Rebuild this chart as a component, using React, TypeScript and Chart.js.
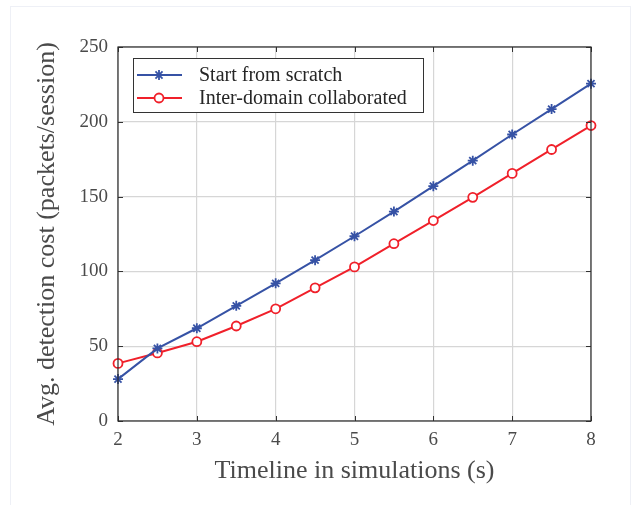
import React, { useEffect, useRef } from "react";
import { Chart, registerables } from "chart.js";

Chart.register(...registerables);

const timeline = [2, 2.5, 3, 3.5, 4, 4.5, 5, 5.5, 6, 6.5, 7, 7.5, 8];
const scratchCost = [28, 48.5, 62, 77, 92, 107.5, 123.5, 140, 157, 174, 191.5, 208.5, 225.5];
const collabCost = [38.5, 45.5, 53, 63.5, 75, 89, 103, 118.5, 134, 149.5, 165.5, 181.5, 197.5];
const seriesNames = ["Start from scratch", "Inter-domain collaborated"];
const xTitle = "Timeline in simulations (s)";
const yTitle = "Avg. detection cost (packets/session)";

const BLUE = "#3652a5";
const RED = "#f0202a";
const SERIF = "'Liberation Serif', 'Times New Roman', serif";

function drawStar(ctx: CanvasRenderingContext2D, x: number, y: number, r: number) {
  ctx.beginPath();
  for (let k = 0; k < 4; k++) {
    const a = (k * Math.PI) / 4;
    ctx.moveTo(x - Math.cos(a) * r, y - Math.sin(a) * r);
    ctx.lineTo(x + Math.cos(a) * r, y + Math.sin(a) * r);
  }
  ctx.stroke();
}

const framePlugin = {
  id: "frame",
  afterDraw(chart: any) {
    const { ctx, chartArea } = chart;
    const { left, right, top, bottom } = chartArea;
    ctx.save();
    ctx.strokeStyle = "#333333";
    ctx.lineWidth = 1;
    const xs = chart.scales.x;
    const ys = chart.scales.y;
    const tl = 5;
    xs.ticks.forEach((t: any) => {
      const px = Math.round(xs.getPixelForValue(t.value)) + 0.5;
      ctx.beginPath();
      ctx.moveTo(px, bottom);
      ctx.lineTo(px, bottom - tl);
      ctx.moveTo(px, top);
      ctx.lineTo(px, top + tl);
      ctx.stroke();
    });
    ys.ticks.forEach((t: any) => {
      const py = Math.round(ys.getPixelForValue(t.value)) + 0.5;
      ctx.beginPath();
      ctx.moveTo(left, py);
      ctx.lineTo(left + tl, py);
      ctx.moveTo(right, py);
      ctx.lineTo(right - tl, py);
      ctx.stroke();
    });
    ctx.strokeStyle = "#2a2a2a";
    ctx.lineWidth = 1.2;
    ctx.strokeRect(left, top, right - left, bottom - top);

    const bx = left + 15;
    const by = top + 11;
    const bw = 290;
    const bh = 54;
    ctx.fillStyle = "#ffffff";
    ctx.fillRect(bx, by, bw, bh);
    ctx.strokeStyle = "#333333";
    ctx.lineWidth = 1;
    ctx.strokeRect(bx + 0.5, by + 0.5, bw, bh);
    const rows = [
      { name: seriesNames[0], color: BLUE, marker: "star" },
      { name: seriesNames[1], color: RED, marker: "circle" },
    ];
    ctx.font = `20px ${SERIF}`;
    ctx.textBaseline = "middle";
    ctx.textAlign = "left";
    rows.forEach((r, i) => {
      const cy = by + 17 + i * 23;
      ctx.strokeStyle = r.color;
      ctx.lineWidth = 2;
      ctx.beginPath();
      ctx.moveTo(bx + 4, cy);
      ctx.lineTo(bx + 49, cy);
      ctx.stroke();
      ctx.lineWidth = 1.8;
      if (r.marker === "star") {
        drawStar(ctx, bx + 26, cy, 5);
      } else {
        ctx.fillStyle = "#ffffff";
        ctx.beginPath();
        ctx.arc(bx + 26, cy, 4.5, 0, Math.PI * 2);
        ctx.fill();
        ctx.stroke();
      }
      ctx.fillStyle = "#262626";
      ctx.fillText(r.name, bx + 66, cy + 1);
    });
    ctx.restore();
  },
};

export default function App() {
  const ref = useRef<HTMLCanvasElement | null>(null);
  useEffect(() => {
    if (!ref.current) return;
    const chart = new Chart(ref.current, {
      type: "line",
      data: {
        datasets: [
          {
            label: seriesNames[0],
            data: timeline.map((x, i) => ({ x, y: scratchCost[i] })),
            borderColor: BLUE,
            backgroundColor: BLUE,
            borderWidth: 2,
            pointStyle: "star",
            pointRadius: 5,
            pointBorderWidth: 1.8,
            pointBorderColor: BLUE,
            clip: false,
          } as any,
          {
            label: seriesNames[1],
            data: timeline.map((x, i) => ({ x, y: collabCost[i] })),
            borderColor: RED,
            backgroundColor: "#ffffff",
            borderWidth: 2,
            pointStyle: "circle",
            pointRadius: 4.5,
            pointBorderWidth: 1.8,
            pointBorderColor: RED,
            pointBackgroundColor: "#ffffff",
            clip: false,
          } as any,
        ],
      },
      options: {
        animation: false,
        responsive: false,
        maintainAspectRatio: false,
        layout: { padding: { left: 0, right: 50, top: 47, bottom: 0 } },
        plugins: { legend: { display: false }, tooltip: { enabled: false } },
        scales: {
          x: {
            type: "linear",
            min: 2,
            max: 8,
            ticks: {
              stepSize: 1,
              padding: 8,
              color: "#4a4a4a",
              font: { family: SERIF, size: 19 },
            },
            grid: { color: "#d6d6d6", lineWidth: 1.2, drawTicks: false },
            border: { display: false },
            title: {
              display: true,
              text: xTitle,
              color: "#4a4a4a",
              font: { family: SERIF, size: 26 },
              padding: { top: 0, bottom: 18 },
            },
            afterFit(scale: any) {
              scale.height = 84;
            },
          },
          y: {
            type: "linear",
            min: 0,
            max: 250,
            ticks: {
              stepSize: 50,
              padding: 10,
              color: "#4a4a4a",
              font: { family: SERIF, size: 19 },
            },
            grid: { color: "#d6d6d6", lineWidth: 1.2, drawTicks: false },
            border: { display: false },
            title: {
              display: true,
              text: yTitle,
              color: "#4a4a4a",
              font: { family: SERIF, size: 26 },
              padding: { top: 32, bottom: 0 },
            },
            afterFit(scale: any) {
              scale.width = 118;
            },
          },
        },
      } as any,
      plugins: [framePlugin],
    });
    return () => chart.destroy();
  }, []);

  return (
    <div style={{ position: "absolute", left: 0, top: 0, width: 641, height: 505, background: "#ffffff" }}>
      <div
        style={{
          position: "absolute",
          left: 10,
          top: 6,
          width: 621,
          height: 520,
          border: "1px solid #eef0f6",
          boxSizing: "border-box",
        }}
      />
      <canvas ref={ref} width={641} height={505} style={{ position: "absolute", left: 0, top: 0 }} />
    </div>
  );
}
